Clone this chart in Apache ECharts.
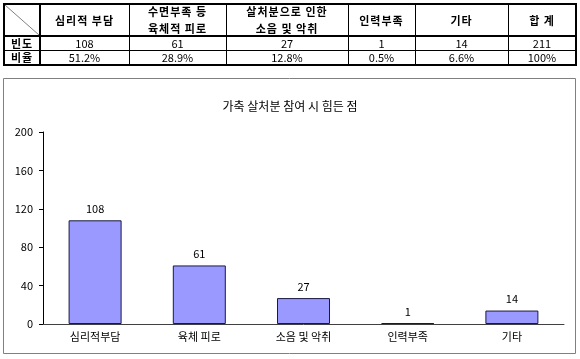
<!DOCTYPE html>
<html>
<head>
<meta charset="utf-8">
<script src="https://cdn.jsdelivr.net/npm/echarts@6/dist/echarts.min.js"></script>
<style>
  html, body { margin: 0; padding: 0; background: #fff; }
  #page { position: relative; width: 580px; height: 359px; overflow: hidden;
          font-family: "Noto Sans CJK KR", "Noto Sans", sans-serif; color: #000; }
  #chart { position: absolute; left: 0; top: 0; width: 580px; height: 359px; }
  #table { position: absolute; left: 0; top: 0; width: 580px; height: 70px; }
  .cell { position: absolute; display: flex; align-items: center; justify-content: center;
          text-align: center; white-space: pre-line; font-size: 11px; line-height: 17px; }
  .head { font-weight: bold; letter-spacing: 1px; }
  .rule { position: absolute; background: #000; }
</style>
</head>
<body>
<div id="page">
  <div id="chart"></div>
  <div id="table"></div>
</div>
<script>
// Summary table
const tableHeaders = ['심리적 부담', '수면부족 등\n육체적 피로', '살처분으로 인한\n소음 및 악취', '인력부족', '기타', '합 계'];
const rowLabels = ['빈도', '비율'];
const freqRow = ['108', '61', '27', '1', '14', '211'];
const ratioRow = ['51.2%', '28.9%', '12.8%', '0.5%', '6.6%', '100%'];

// Bar chart
const chartTitle = '가축 살처분 참여 시 힘든 점';
const categories = ['심리적부담', '육체 피로', '소음 및 악취', '인력부족', '기타'];
const counts = [108, 61, 27, 1, 14];
const yMax = 200;
const yStep = 40;

// ---- table layout ----
const colX = [4, 40, 129, 226, 348, 415, 508, 576];
const rowY = [4, 36, 50, 65];
const table = document.getElementById('table');

function addCell(r, c, text, cls) {
  const d = document.createElement('div');
  d.className = 'cell' + (cls ? ' ' + cls : '');
  d.style.left = colX[c] + 'px';
  d.style.top = rowY[r] + 'px';
  d.style.width = (colX[c + 1] - colX[c]) + 'px';
  d.style.height = (rowY[r + 1] - rowY[r]) + 'px';
  d.textContent = text;
  table.appendChild(d);
}
function addRule(x, y, w, h) {
  const d = document.createElement('div');
  d.className = 'rule';
  d.style.left = x + 'px'; d.style.top = y + 'px';
  d.style.width = w + 'px'; d.style.height = h + 'px';
  table.appendChild(d);
}

tableHeaders.forEach((t, i) => addCell(0, i + 1, t, 'head'));
[freqRow, ratioRow].forEach((row, r) => {
  addCell(r + 1, 0, rowLabels[r], 'head');
  row.forEach((t, i) => addCell(r + 1, i + 1, t));
});

// grid lines of the table
const L = colX[0], R = colX[colX.length - 1], T = rowY[0], B = rowY[rowY.length - 1];
addRule(L - 1, T - 1, R - L + 2, 2);          // top
addRule(L - 1, B - 1, R - L + 2, 2);          // bottom
addRule(L - 1, T - 1, 2, B - T + 2);          // left
addRule(R - 1, T - 1, 2, B - T + 2);          // right
addRule(L, rowY[1] - 1, R - L, 2);            // under header
addRule(L, rowY[2], R - L, 1);                // between rows
addRule(colX[1] - 1, T, 2, B - T);            // after label column
for (let c = 2; c < colX.length - 1; c++) addRule(colX[c], T, 1, B - T);

// diagonal in the corner cell
const svgNS = 'http://www.w3.org/2000/svg';
const svg = document.createElementNS(svgNS, 'svg');
svg.setAttribute('width', 580); svg.setAttribute('height', 70);
svg.style.position = 'absolute'; svg.style.left = '0'; svg.style.top = '0';
const ln = document.createElementNS(svgNS, 'line');
ln.setAttribute('x1', colX[0] + 1); ln.setAttribute('y1', rowY[0] + 1);
ln.setAttribute('x2', colX[1] - 1); ln.setAttribute('y2', rowY[1] - 1);
ln.setAttribute('stroke', '#808080'); ln.setAttribute('stroke-width', '1');
svg.appendChild(ln);
table.appendChild(svg);

// ---- chart ----
const chart = echarts.init(document.getElementById('chart'), null, { renderer: 'canvas' });
const font = '"Noto Sans CJK KR", "Noto Sans", sans-serif';
chart.setOption({
  animation: false,
  backgroundColor: 'transparent',
  textStyle: { fontFamily: font, color: '#000' },
  title: {
    text: chartTitle,
    left: 'center',
    top: 95,
    textStyle: { fontSize: 12, fontWeight: 'normal', color: '#000', fontFamily: font }
  },
  graphic: [{
    type: 'rect',
    shape: { x: 3.5, y: 78.5, width: 572, height: 275 },
    style: { fill: null, stroke: '#808080', lineWidth: 1 },
    silent: true
  }],
  grid: { left: 43, right: 16, top: 132, bottom: 35 },
  xAxis: {
    type: 'category',
    data: categories,
    axisLine: { lineStyle: { color: '#404040', width: 1 } },
    axisTick: { show: false },
    axisLabel: { fontSize: 11, color: '#000', margin: 7, fontFamily: font }
  },
  yAxis: {
    type: 'value',
    min: 0,
    max: yMax,
    interval: yStep,
    splitLine: { show: false },
    axisLine: { show: true, lineStyle: { color: '#000', width: 1 } },
    axisTick: { show: true, inside: false, length: 4, lineStyle: { color: '#000' } },
    axisLabel: { fontSize: 11, color: '#000', margin: 10, fontFamily: font }
  },
  series: [{
    type: 'bar',
    data: counts,
    barWidth: 53,
    itemStyle: { color: '#9999FF', borderColor: '#1a1a40', borderWidth: 1 },
    label: { show: true, position: 'top', distance: 6, fontSize: 11, color: '#000', fontFamily: font }
  }]
});
</script>
</body>
</html>
